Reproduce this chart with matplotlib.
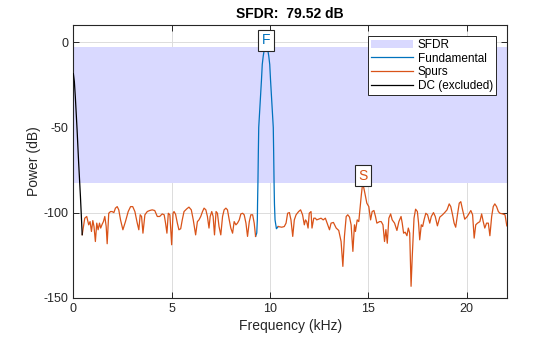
import numpy as np
import matplotlib
matplotlib.use("Agg")
import matplotlib.pyplot as plt
from matplotlib.patches import Patch
from matplotlib.lines import Line2D

plt.rcParams['font.family'] = ['Liberation Sans', 'DejaVu Sans']
plt.rcParams['axes.unicode_minus'] = False

fs_half = 22.05  # Nyquist, kHz

# DC leakage (excluded from SFDR)
dc_khz = [0.0, 0.05, 0.1, 0.19, 0.27, 0.36, 0.45]
dc_db = [-18.4, -23, -32, -51.5, -71, -90.6, -113]

# fundamental main lobe
fund_khz = [9.27, 9.33, 9.36, 9.37, 9.39, 9.41, 9.43, 9.48, 9.53, 9.57, 9.61,
            9.66, 9.71, 9.76, 9.80, 9.84, 9.89, 9.94, 9.99, 10.03, 10.07,
            10.12, 10.17, 10.19, 10.21, 10.23, 10.26, 10.33, 10.42]
fund_db = [-114, -112, -104, -95, -82, -65, -50, -40, -30, -22, -13,
           -8, -4.5, -3.2, -2.98, -3.2, -4.5, -8, -13, -22, -30,
           -40, -50, -65, -82, -95, -104.3, -109.5, -108.2]

# spurs / noise floor, NaN where the fundamental sits
spur_khz = [0.45, 0.58, 0.68, 0.78, 0.85, 0.92, 0.99, 1.05, 1.12, 1.19, 1.26,
            1.33, 1.39, 1.46, 1.53, 1.6, 1.67, 1.72, 1.8, 1.89, 1.97, 2.06,
            2.14, 2.23, 2.31, 2.4, 2.52, 2.65, 2.79, 2.91, 3.02, 3.13, 3.25,
            3.33, 3.4, 3.47, 3.54, 3.64, 3.76, 3.88, 4.01, 4.14, 4.27, 4.39,
            4.52, 4.62, 4.69, 4.76, 4.83, 4.91, 5.0, 5.07, 5.12, 5.2, 5.29,
            5.37, 5.46, 5.54, 5.63, 5.77, 5.88, 6.0, 6.1, 6.22, 6.31, 6.39,
            6.48, 6.57, 6.65, 6.74, 6.82, 6.9, 6.96, 7.04, 7.11, 7.18, 7.26,
            7.33, 7.41, 7.5, 7.59, 7.67, 7.76, 7.84, 7.93, 8.01, 8.1, 8.18,
            8.27, 8.35, 8.44, 8.52, 8.61, 8.69, 8.78, 8.86, 8.95, 9.03, 9.12,
            9.2, 9.27, np.nan,
            10.42, 10.6, 10.73, 10.82, 10.9, 10.99, 11.07, 11.16, 11.24, 11.33,
            11.46, 11.56, 11.66, 11.75, 11.81, 11.87, 11.94, 12.0, 12.09, 12.14,
            12.23, 12.31, 12.38, 12.49, 12.6, 12.71, 12.82, 12.94, 13.03, 13.11,
            13.23, 13.37, 13.5, 13.62, 13.71, 13.79, 13.88, 13.96, 14.05, 14.13,
            14.22, 14.3, 14.35, 14.44, 14.52, 14.59, 14.65, 14.72, 14.83, 14.93,
            15.03, 15.12, 15.2, 15.29, 15.37, 15.44, 15.58, 15.66, 15.75, 15.83,
            15.9, 15.97, 16.05, 16.14, 16.22, 16.34, 16.46, 16.56, 16.67, 16.73,
            16.8, 16.88, 16.97, 17.04, 17.11, 17.18, 17.24, 17.33, 17.41, 17.5,
            17.56, 17.62, 17.7, 17.77, 17.84, 17.93, 18.02, 18.13, 18.21, 18.32,
            18.41, 18.52, 18.64, 18.78, 18.89, 19.01, 19.12, 19.2, 19.29, 19.37,
            19.45, 19.54, 19.63, 19.71, 19.8, 19.91, 20.04, 20.14, 20.22, 20.31,
            20.39, 20.47, 20.56, 20.68, 20.77, 20.85, 20.93, 21.02, 21.11, 21.19,
            21.28, 21.36, 21.44, 21.53, 21.62, 21.7, 21.84, 21.96, 22.05]
spur_db = [-113, -103.3, -102.3, -107.2, -105.3, -111.1, -104.7, -108.2, -117,
           -106.2, -110.1, -106.2, -109.1, -107, -105.3, -102.3, -108.2, -118.3,
           -100.4, -99.4, -99.4, -100, -97.4, -96.5, -98.4, -104.3, -110.1,
           -105.3, -99.4, -96.5, -96.5, -99.4, -106.2, -110.1, -101.3, -102.3,
           -112.1, -101.3, -99.4, -98.8, -98.4, -98.8, -102.3, -102.3, -100.8,
           -101.3, -106.2, -112.1, -100.4, -101.3, -118.9, -100.4, -99.4, -101,
           -106.2, -110.1, -109.5, -104.3, -99.4, -97.8, -96.8, -98.4, -104.3,
           -113.1, -105.3, -104.3, -102.3, -99.4, -97.4, -98.4, -102.3, -109.1,
           -102.3, -99.4, -102.3, -113.1, -99.4, -100.4, -108.2, -113.1, -102.3,
           -98.4, -97.4, -98.4, -104.3, -109.1, -112.1, -105.3, -107.2, -106.2,
           -104.3, -100.8, -100.4, -101.3, -106.2, -114, -105.3, -101.3, -101.3,
           -106.2, -114, np.nan,
           -108.2, -108.6, -108.2, -106.2, -100.4, -100, -104.3, -114, -104.3,
           -101.3, -99.4, -98.4, -101.3, -107.2, -104.3, -105.3, -109.1, -100.4,
           -99.4, -109.1, -103.3, -103.3, -104.3, -103.8, -103.3, -104.3, -103.3,
           -107.2, -110.1, -106.2, -105.8, -109.1, -110.5, -117, -131.6, -114,
           -102.3, -101.3, -102.7, -107.2, -122.8, -107.2, -111.1, -104.3, -105.3,
           -96.5, -89.6, -82.5, -88.6, -94.5, -96.5, -104.3, -99.4, -98.8, -102.3,
           -106.2, -105.3, -105.3, -107.2, -117, -110, -118, -103.3, -100.8,
           -104.3, -106.2, -110.5, -105.3, -102.3, -106.2, -112.1, -111.5, -113.6,
           -109.1, -112, -143.3, -125.8, -103.3, -98, -99.4, -106, -116, -107.2,
           -108.2, -104.3, -100.4, -101.3, -106.2, -102.3, -100, -102.3, -107.8,
           -102.7, -101.3, -100, -98.4, -94.9, -96.5, -101.3, -106.2, -108.6,
           -101.3, -94.5, -93.6, -98.4, -103.9, -102.3, -100.4, -98.8, -101.3,
           -115, -107.2, -106.2, -105.3, -100.8, -105.3, -109.1, -106.2, -106.2,
           -113.6, -102.3, -96.5, -94.9, -96.5, -99.4, -100.4, -100.8, -101.3,
           -107.8]

fund_freq, fund_power = 9.80, -2.98
spur_freq, spur_power = 14.72, -82.5
sfdr = fund_power - spur_power

blue = '#0072BD'
orange = '#D95319'
band = '#D9D9FF'
axcol = '#262626'

fig = plt.figure(figsize=(5.6, 3.37), dpi=100)
ax = fig.add_axes([0.131, 0.1166, 0.774, 0.8084])

ax.axhspan(spur_power, fund_power, color=band, lw=0, zorder=1)
ax.plot(fund_khz, fund_db, color=blue, lw=0.9, zorder=3)
ax.plot(spur_khz, spur_db, color=orange, lw=0.9, zorder=3)
ax.plot(dc_khz, dc_db, color='black', lw=0.9, zorder=3)

box = dict(boxstyle='square,pad=0.25', fc='white', ec=axcol, lw=0.8)
ax.text(fund_freq, fund_power, 'F', color=blue, fontsize=10,
        ha='center', va='bottom', bbox=box, zorder=5)
ax.text(spur_freq, spur_power, 'S', color=orange, fontsize=10,
        ha='center', va='bottom', bbox=box, zorder=5)

ax.set_xlim(0, fs_half)
ax.set_ylim(-150, 10)
ax.set_xticks([0, 5, 10, 15, 20])
ax.set_yticks([-150, -100, -50, 0])
ax.set_axisbelow(True)
ax.grid(True, color='#dcdcdc', lw=0.7)
ax.tick_params(direction='in', top=True, right=True, length=4,
               labelsize=9, colors=axcol, width=0.7)
for s in ax.spines.values():
    s.set_color(axcol)
    s.set_linewidth(0.8)

ax.set_xlabel('Frequency (kHz)', fontsize=10, color=axcol, labelpad=3)
ax.set_ylabel('Power (dB)', fontsize=10, color=axcol, labelpad=2)
ax.set_title('SFDR:  %.2f dB' % sfdr, fontsize=10, fontweight='bold', pad=5)

handles = [Patch(facecolor=band, edgecolor='none'),
           Line2D([], [], color=blue, lw=0.9),
           Line2D([], [], color=orange, lw=0.9),
           Line2D([], [], color='black', lw=0.9)]
leg = ax.legend(handles, ['SFDR', 'Fundamental', 'Spurs', 'DC (excluded)'],
                loc='upper right', bbox_to_anchor=(0.975, 0.961),
                borderaxespad=0, fontsize=8.5, fancybox=False, framealpha=1,
                edgecolor=axcol, handlelength=3.6, handletextpad=0.4,
                labelspacing=0.15, borderpad=0.25)
leg.get_frame().set_linewidth(0.7)

fig.savefig('out.png', dpi=100)
